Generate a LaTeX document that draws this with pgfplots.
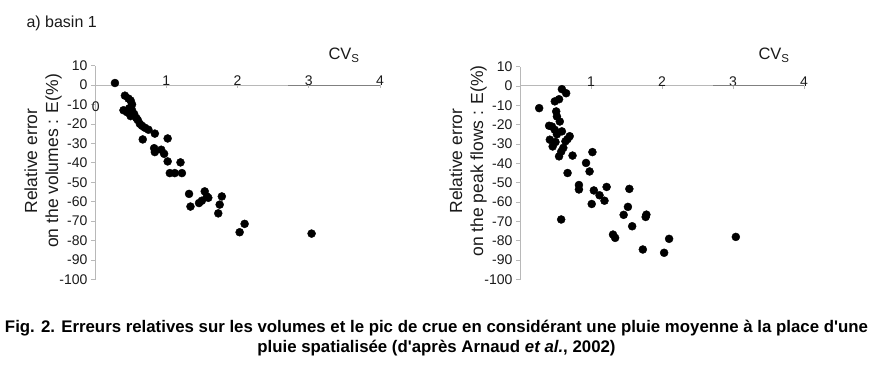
\documentclass[border=0pt]{standalone}
\usepackage{pgfplots}
\pgfplotsset{compat=1.18}
\usepackage{fontspec}
\usepackage{graphicx}
\setmainfont{Liberation Sans}
\newfontfamily\capfont{Liberation Sans}
\newlength{\capw}

\definecolor{axgray}{HTML}{B8B8B8}
\definecolor{axdark}{HTML}{808080}
\definecolor{txt}{HTML}{1A1A1A}

\pgfplotstableread{
x y
0.28 1
0.42 -5.5
0.47 -7
0.50 -8
0.52 -10
0.40 -13
0.45 -14
0.48 -12
0.52 -13
0.55 -15
0.50 -16
0.58 -17
0.60 -18
0.63 -20
0.66 -21
0.70 -22
0.75 -23
0.84 -25
0.67 -28
1.02 -27.5
0.83 -32.5
0.84 -34.5
0.93 -33.3
0.97 -35.4
1.02 -39.3
1.20 -39.8
1.05 -45.3
1.12 -45.3
1.22 -45.3
1.32 -56
1.34 -62.5
1.46 -60.7
1.50 -59.5
1.54 -54.7
1.57 -57.3
1.59 -58
1.78 -57.3
1.75 -61.5
1.73 -66
2.03 -75.7
2.10 -71.4
3.04 -76.4
}\volumes

\pgfplotstableread{
x y
0.27 -11.5
0.59 -1.7
0.65 -3.8
0.49 -8
0.55 -6.9
0.51 -13.2
0.52 -15.8
0.56 -18.4
0.41 -20.6
0.49 -22.7
0.45 -21
0.59 -23.5
0.52 -25
0.42 -27.8
0.46 -31.3
0.50 -29
0.70 -26
0.67 -27.5
0.64 -28.6
0.61 -32
0.58 -34
0.55 -36.4
0.74 -36
1.02 -34.2
0.93 -39.8
0.98 -44.2
0.67 -45
0.83 -51.2
0.83 -53.5
1.04 -54
1.12 -56.5
1.19 -59.3
1.22 -52.2
1.01 -61
1.54 -53.2
1.52 -62.5
1.46 -66.6
1.58 -72.5
1.78 -66.5
1.77 -67.7
0.58 -69
1.31 -76.8
1.34 -78.5
1.73 -84.5
2.03 -86.2
2.10 -79
3.04 -78
}\peaks

\pgfplotsset{
  myax/.style={
    scale only axis, width=285pt, height=214pt,
    xmin=0, xmax=4, ymin=-100, ymax=10,
    axis x line=middle, axis y line=left,
    x axis line style={-, draw=axgray, line width=0.8pt},
    y axis line style={-, draw=axgray, line width=0.8pt},
    xtick={1,2,3,4}, xticklabels={1,2,3,4},
    ytick={-100,-90,-80,-70,-60,-50,-40,-30,-20,-10,0,10},
    yticklabels={-100,-90,-80,-70,-60,-50,-40,-30,-20,-10,0,10},
    tick style={draw=axgray, line width=0.6pt},
    xtick style={draw=none},
    major tick length=4pt,
    tick align=outside,
    ticklabel style={font=\fontsize{14}{16}\selectfont, text=txt},
    xticklabel style={anchor=south, inner sep=3.5pt},
    clip=false,
  }
}

\newcommand{\capone}{Fig. 2. Erreurs relatives sur les volumes et le pic de crue en considérant une pluie moyenne à la place d'une}
\newcommand{\captwo}{pluie spatialisée (d'après Arnaud \textit{et al.}, 2002)}
\newcommand{\capsty}{\capfont\bfseries\fontsize{16.8}{20}\selectfont}

\begin{document}
\settowidth{\capw}{\capsty\capone}%
\pgfmathsetmacro{\capr}{863/\capw}%
\begin{tikzpicture}
\path[use as bounding box] (0pt,0pt) rectangle (873pt,-365pt);

\node[anchor=base west, font=\fontsize{16}{19}\selectfont, text=txt] at (23pt,-27.5pt) {a) basin 1};

\begin{axis}[myax, at={(95pt,-279.5pt)}, anchor=south west]
  \addplot[only marks, mark=*, mark size=4pt, black] table[x=x,y=y] {\volumes};
  \draw[axdark, line width=0.9pt] (axis cs:2.71,0) -- (axis cs:4,0);
  \draw[axgray, line width=0.6pt] (axis cs:1,0) -- (axis cs:1,-1.6);
  \draw[axgray, line width=0.6pt] (axis cs:2,0) -- (axis cs:2,-1.6);
  \draw[axgray, line width=0.6pt] (axis cs:3,0) -- (axis cs:3,-1.6);
  \draw[axgray, line width=0.6pt] (axis cs:4,0) -- (axis cs:4,-1.6);
  \node[font=\fontsize{14}{16}\selectfont, text=txt] at (axis cs:0.01,-11.3) {0};
\end{axis}

\begin{axis}[myax, at={(520pt,-279.5pt)}, anchor=south west, width=284pt, height=213pt]
  \addplot[only marks, mark=*, mark size=4pt, black] table[x=x,y=y] {\peaks};
  \draw[axdark, line width=0.9pt] (axis cs:2.72,0) -- (axis cs:4,0);
  \draw[axgray, line width=0.6pt] (axis cs:1,0) -- (axis cs:1,-1.6);
  \draw[axgray, line width=0.6pt] (axis cs:2,0) -- (axis cs:2,-1.6);
  \draw[axgray, line width=0.6pt] (axis cs:3,0) -- (axis cs:3,-1.6);
  \draw[axgray, line width=0.6pt] (axis cs:4,0) -- (axis cs:4,-1.6);
\end{axis}

\node[anchor=base west, font=\fontsize{16.5}{19}\selectfont, text=txt] at (325pt,-59pt) {CV\raisebox{-3pt}{\fontsize{11.5}{13}\selectfont S}};
\node[anchor=base west, font=\fontsize{16.5}{19}\selectfont, text=txt] at (755pt,-59pt) {CV\raisebox{-3pt}{\fontsize{11.5}{13}\selectfont S}};

\node[rotate=90, align=center, font=\fontsize{17.5}{21}\selectfont, text=txt] at (43pt,-161pt) {Relative error\\on the volumes : E(\%)};
\node[rotate=90, align=center, font=\fontsize{17.5}{21}\selectfont, text=txt] at (468pt,-161pt) {Relative error\\on the peak flows : E(\%)};

\node[anchor=base, inner sep=0pt] at (436.5pt,-332.7pt) {\scalebox{\capr}[1]{\capsty\capone}};
\node[anchor=base, inner sep=0pt] at (436.5pt,-352.7pt) {\scalebox{\capr}[1]{\capsty\captwo}};
\end{tikzpicture}
\end{document}
